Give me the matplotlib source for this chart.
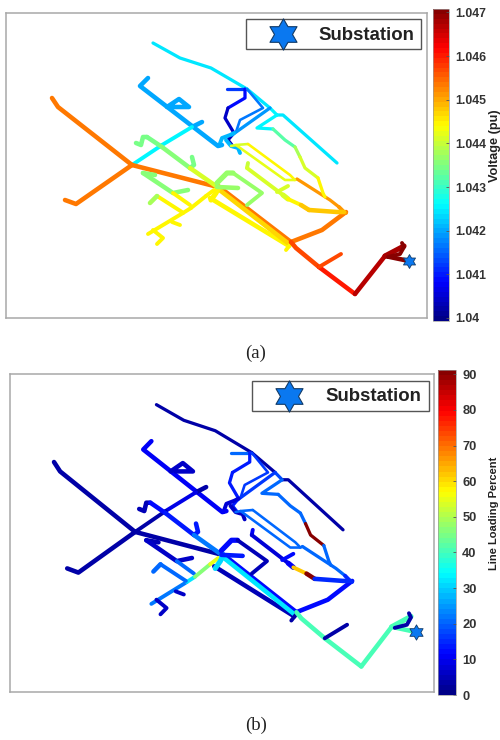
import matplotlib
matplotlib.use("Agg")
import matplotlib.pyplot as plt
import numpy as np
from matplotlib.cm import ScalarMappable
from matplotlib.collections import LineCollection
from matplotlib.colors import ListedColormap, Normalize
from matplotlib.lines import Line2D
from matplotlib.patches import Rectangle
from matplotlib.path import Path

# feeder branches, one entry per line section (coordinates are feeder map units)
branch_xy = [
    [(153, 43), (180, 58), (211, 68), (247, 89)],
    [(247, 89), (270, 108)],
    [(270, 108), (277, 115)],
    [(277, 115), (283, 115), (337, 163)],
    [(227, 89), (245, 89)],
    [(245, 89), (245, 98), (228, 108)],
    [(228, 108), (225, 118), (234, 133)],
    [(234, 133), (228, 140), (232, 145)],
    [(247, 89), (263, 108), (240, 120), (236, 132)],
    [(232, 135), (270, 108)],
    [(219, 146), (222, 138), (230, 135), (234, 133)],
    [(226, 140), (231, 146), (238, 148), (240, 153)],
    [(148, 78), (140, 86), (218, 146), (222, 145)],
    [(167, 107), (179, 99), (189, 107), (172, 107)],
    [(192, 127), (202, 122)],
    [(192, 127), (162, 145)],
    [(162, 145), (132, 165)],
    [(52, 98), (58, 107), (132, 165)],
    [(132, 165), (76, 204), (65, 200)],
    [(132, 165), (214, 186)],
    [(136, 143), (141, 145), (143, 137), (147, 137)],
    [(147, 137), (162, 147)],
    [(162, 147), (190, 168)],
    [(192, 157), (194, 165), (190, 168)],
    [(190, 168), (216, 186)],
    [(143, 173), (155, 175)],
    [(143, 173), (173, 193), (188, 190)],
    [(173, 193), (190, 205)],
    [(148, 234), (183, 213)],
    [(183, 213), (191, 208)],
    [(191, 208), (206, 196)],
    [(206, 196), (214, 190)],
    [(157, 196), (182, 212)],
    [(157, 196), (150, 203)],
    [(172, 222), (180, 225)],
    [(153, 230), (163, 238), (157, 244)],
    [(218, 186), (291, 242)],
    [(210, 198), (289, 246)],
    [(217, 188), (289, 244)],
    [(211, 200), (216, 193), (219, 187)],
    [(286, 250), (290, 245)],
    [(217, 183), (227, 173), (233, 173)],
    [(233, 173), (262, 193), (247, 205)],
    [(217, 187), (238, 188)],
    [(291, 242), (322, 230), (346, 212)],
    [(291, 242), (296, 248), (319, 267)],
    [(319, 267), (355, 294)],
    [(319, 267), (341, 254)],
    [(355, 294), (385, 256)],
    [(385, 256), (409, 261)],
    [(385, 256), (404, 246)],
    [(388, 257), (400, 254), (404, 247), (402, 243)],
    [(231, 146), (236, 145), (248, 144)],
    [(248, 144), (290, 175), (295, 180), (297, 179)],
    [(297, 179), (330, 200), (339, 207)],
    [(339, 207), (344, 212), (346, 213)],
    [(236, 145), (285, 180), (295, 180)],
    [(277, 115), (257, 128), (273, 129)],
    [(273, 129), (285, 140), (295, 147)],
    [(295, 147), (300, 157)],
    [(300, 157), (305, 168), (318, 178)],
    [(318, 178), (323, 193), (325, 197)],
    [(248, 163), (247, 168)],
    [(247, 168), (283, 195)],
    [(283, 195), (288, 199)],
    [(277, 192), (288, 186)],
    [(288, 199), (301, 205)],
    [(301, 205), (309, 210)],
    [(309, 210), (337, 212), (344, 212)],
]

branch_voltage = [
    1.0424, 1.0424, 1.0425, 1.0424, 1.0412, 1.0409, 1.0404, 1.0403, 1.0417, 1.0419,
    1.0421, 1.0421, 1.042, 1.042, 1.042, 1.0425, 1.0426, 1.0453, 1.0453, 1.0453,
    1.0435, 1.0434, 1.0436, 1.0435, 1.0441, 1.0436, 1.0436, 1.0444, 1.0444, 1.0444,
    1.0444, 1.0444, 1.0444, 1.0438, 1.0444, 1.0444, 1.0453, 1.0444, 1.0447, 1.0445,
    1.0444, 1.0437, 1.0437, 1.0437, 1.0453, 1.0457, 1.046, 1.0457, 1.0467, 1.047,
    1.0468, 1.047, 1.0441, 1.0445, 1.0451, 1.0451, 1.0442, 1.0426, 1.0432, 1.0438,
    1.0441, 1.0444, 1.044, 1.0441, 1.0441, 1.0441, 1.0445, 1.0448, 1.0448,
]

branch_loading = [
    3, 3, 18, 3, 20, 14, 14, 14, 17, 17,
    8, 6, 10, 6, 4, 9, 3, 3, 3, 3,
    5, 12, 13, 13, 22, 5, 7, 20, 22, 32,
    46, 55, 20, 20, 6, 6, 12, 5, 32, 30,
    3, 12, 5, 14, 12, 40, 40, 3, 40, 40,
    40, 4, 21, 21, 21, 15, 21, 20, 20, 20,
    90, 20, 10, 8, 10, 12, 62, 90, 15,
]

branch_width = [
    2.5, 2.5, 2.5, 2.5, 2.5, 2.5, 2.5, 2.5, 2, 2.5,
    3, 3, 3.5, 3.5, 3.5, 3, 3, 3.5, 3.5, 3.5,
    3.5, 3.5, 3.5, 3.5, 3.5, 3.5, 3.5, 3, 3, 3,
    3, 3, 3, 3.5, 3, 3, 3.5, 3.5, 3.5, 4,
    3, 4, 3, 3.5, 3.5, 3.5, 3.5, 3, 3.5, 3.5,
    4, 3, 2, 2, 2.5, 3, 2, 2.5, 2.5, 2.5,
    2.5, 2.5, 3, 3, 4, 3, 3, 3.5, 3.5,
]

substation_x = [409]
substation_y = [261]

voltage_ticks = [1.04, 1.041, 1.042, 1.043, 1.044, 1.045, 1.046, 1.047]
voltage_labels = ["1.04", "1.041", "1.042", "1.043", "1.044", "1.045", "1.046", "1.047"]
loading_ticks = [0, 10, 20, 30, 40, 50, 60, 70, 80, 90]

W, H = 500, 740
TEXT = "#333333"
STAR_BLUE = "#0a78f0"
STAR_EDGE = "#123a66"
SANS = "Liberation Sans"
star = Path.unit_regular_star(6, innerCircle=0.577)

# matlab style jet, the stock one puts yellow and red a bit higher
u = (np.arange(64) + 0.5) / 64
jet = ListedColormap(np.clip(np.column_stack([
    np.minimum(4 * u - 1.5, 4.5 - 4 * u),
    np.minimum(4 * u - 0.5, 3.5 - 4 * u),
    np.minimum(4 * u + 0.5, 2.5 - 4 * u),
]), 0, 1))


def px_rect(left, top, right, bottom):
    return [left / W, 1 - bottom / H, (right - left) / W, (bottom - top) / H]


def draw_panel(fig, rect, xlim, ylim, values, norm, star_ms):
    ax = fig.add_axes(px_rect(*rect))
    lines = LineCollection(branch_xy, array=values, cmap=jet, norm=norm,
                           linewidths=[1.3 * w * 72 / 100 for w in branch_width],
                           capstyle="round", joinstyle="round")
    ax.add_collection(lines)
    ax.plot(substation_x, substation_y, ls="none", marker=star, ms=star_ms,
            mfc=STAR_BLUE, mec=STAR_EDGE, mew=0.6)
    ax.set_xlim(*xlim)
    ax.set_ylim(*ylim)
    ax.set_xticks([])
    ax.set_yticks([])
    for s in ax.spines.values():
        s.set_color("#a8a8a8")
        s.set_linewidth(1.1)
    return ax


def add_colorbar(fig, rect, norm, ticks, labels, tick_size, pad, title, title_size, title_xy):
    cax = fig.add_axes(px_rect(*rect))
    cb = fig.colorbar(ScalarMappable(norm=norm, cmap=jet), cax=cax)
    cb.set_ticks(ticks)
    cb.set_ticklabels(labels)
    cb.outline.set_edgecolor("#9a9a9a")
    cb.outline.set_linewidth(0.5)
    cb.ax.tick_params(length=2, width=0.6, color="#555555", direction="in", pad=pad)
    for t in cb.ax.get_yticklabels():
        t.set_fontfamily(SANS)
        t.set_fontweight("bold")
        t.set_fontsize(tick_size)
        t.set_color(TEXT)
    fig.text(title_xy[0] / W, 1 - title_xy[1] / H, title, rotation=90, ha="center", va="center",
             family=SANS, fontweight="bold", fontsize=title_size, color="#222222")


def add_key(fig, rect, star_xy, text_xy):
    left, top, right, bottom = rect
    fig.add_artist(Rectangle((left / W, 1 - bottom / H), (right - left) / W, (bottom - top) / H,
                             transform=fig.transFigure, fc="white", ec="#555555", lw=1.0, zorder=5))
    fig.add_artist(Line2D([star_xy[0] / W], [1 - star_xy[1] / H], transform=fig.transFigure, ls="none",
                          marker=star, ms=22.5, mfc=STAR_BLUE, mec=STAR_EDGE, mew=0.8, zorder=6))
    fig.text(text_xy[0] / W, 1 - text_xy[1] / H, "Substation", ha="left", va="center", family=SANS,
             fontweight="bold", fontsize=13.4, color="#222222", zorder=6)


fig = plt.figure(figsize=(W / 100, H / 100), dpi=100)

voltage_norm = Normalize(1.03993, 1.04708)
draw_panel(fig, (6, 13, 427, 318), (6, 427), (318, 13), branch_voltage, voltage_norm, 10)
add_colorbar(fig, (433, 9, 449, 321), voltage_norm, voltage_ticks, voltage_labels, 8.8, 4.5,
             "Voltage (pu)", 9.2, (495, 146))
add_key(fig, (246, 19, 421, 49), (283, 34), (318, 35))
fig.text(256 / W, 1 - 353 / H, "(a)", ha="center", va="center", family="Liberation Serif",
         fontsize=13.5, color="#222222")

loading_norm = Normalize(0, 91.2)
draw_panel(fig, (10, 374, 434, 692), (8.6, 426.7), (318.5, 13.6), branch_loading, loading_norm, 11)
add_colorbar(fig, (438, 370, 456, 695), loading_norm, loading_ticks, [str(t) for t in loading_ticks], 9.3, 4.5,
             "Line Loading Percent", 8, (494, 513.5))
add_key(fig, (252, 381, 429, 411), (289, 396), (325, 397))
fig.text(256 / W, 1 - 725 / H, "(b)", ha="center", va="center", family="Liberation Serif",
         fontsize=13.5, color="#222222")

fig.savefig("out.png", dpi=100)
